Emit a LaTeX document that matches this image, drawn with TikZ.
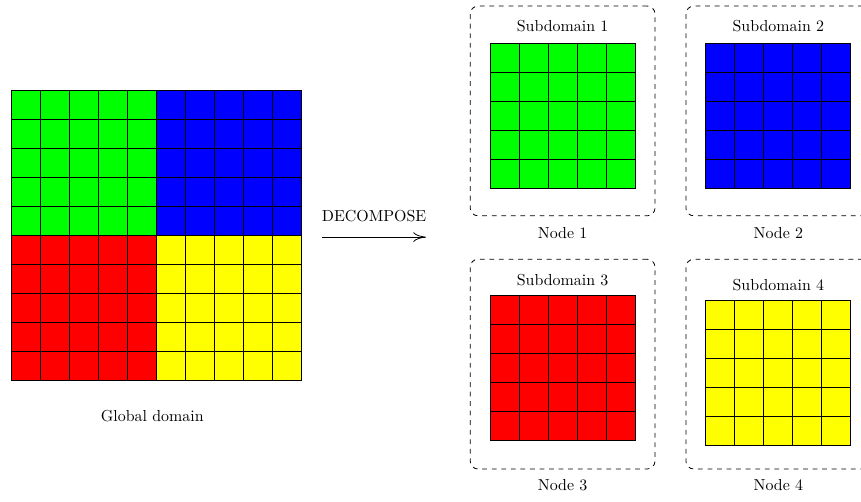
\documentclass[tikz,border=0pt]{standalone}
\usepackage{amsmath}
\usepackage{amssymb}
\usepackage{tikz}
\usetikzlibrary{arrows.meta}

\definecolor{cellgreen}{RGB}{0,255,0}
\definecolor{cellblue}{RGB}{0,0,255}
\definecolor{cellred}{RGB}{255,0,0}
\definecolor{cellyellow}{RGB}{255,255,0}

\tikzset{
	meshlines/.style={line width=0.6pt},
	nodebox/.style={draw, dashed, line width=0.5pt, rounded corners=5pt, minimum width=4.08cm, minimum height=4.63cm, inner sep=0pt}
}

\begin{document}
\begin{tikzpicture}[x=0.64cm,y=0.64cm]
	\useasboundingbox (0,0) rectangle (29.69,17.276);

	% global domain, four colored quarters
	\draw[meshlines, fill=cellgreen] (0.38,9.17) rectangle (5.38,14.17);
	\draw[meshlines, fill=cellblue] (5.38,9.17) rectangle (10.38,14.17);
	\draw[meshlines, fill=cellred] (0.38,4.17) rectangle (5.38,9.17);
	\draw[meshlines, fill=cellyellow] (5.38,4.17) rectangle (10.38,9.17);
	\draw[meshlines, shift={(0.38,4.17)}] (0,0) grid [step=1] (10,10);
	\node (global) at (5.25,2.93) {Global domain};

	% decompose arrow
	\coordinate (arrstart) at (11.10,9.10);
	\coordinate (arrend) at (14.69,9.10);
	\draw[-{To[length=8pt,width=6pt]}, line width=0.5pt] (arrstart) -- (arrend);
	\node (decompose) at (12.90,9.83) {DECOMPOSE};

	% subdomain 1
	\node[nodebox] (box1) at (19.40,13.45) {};
	\draw[meshlines, fill=cellgreen, shift={(16.90,10.79)}] (0,0) rectangle (5,5) (0,0) grid [step=1] (5,5);
	\node (sub1) at (19.40,16.37) {Subdomain 1};
	\node (node1) at (19.40,9.24) {Node 1};

	% subdomain 2
	\node[nodebox] (box2) at (26.84,13.45) {};
	\draw[meshlines, fill=cellblue, shift={(24.34,10.79)}] (0,0) rectangle (5,5) (0,0) grid [step=1] (5,5);
	\node (sub2) at (26.84,16.37) {Subdomain 2};
	\node (node2) at (26.84,9.24) {Node 2};

	% subdomain 3
	\node[nodebox] (box3) at (19.40,4.72) {};
	\draw[meshlines, fill=cellred, shift={(16.90,2.08)}] (0,0) rectangle (5,5) (0,0) grid [step=1] (5,5);
	\node (sub3) at (19.40,7.62) {Subdomain 3};
	\node (node3) at (19.40,0.54) {Node 3};

	% subdomain 4
	\node[nodebox] (box4) at (26.84,4.72) {};
	\draw[meshlines, fill=cellyellow, shift={(24.34,1.90)}] (0,0) rectangle (5,5) (0,0) grid [step=1] (5,5);
	\node (sub4) at (26.84,7.43) {Subdomain 4};
	\node (node4) at (26.84,0.54) {Node 4};
\end{tikzpicture}
\end{document}
